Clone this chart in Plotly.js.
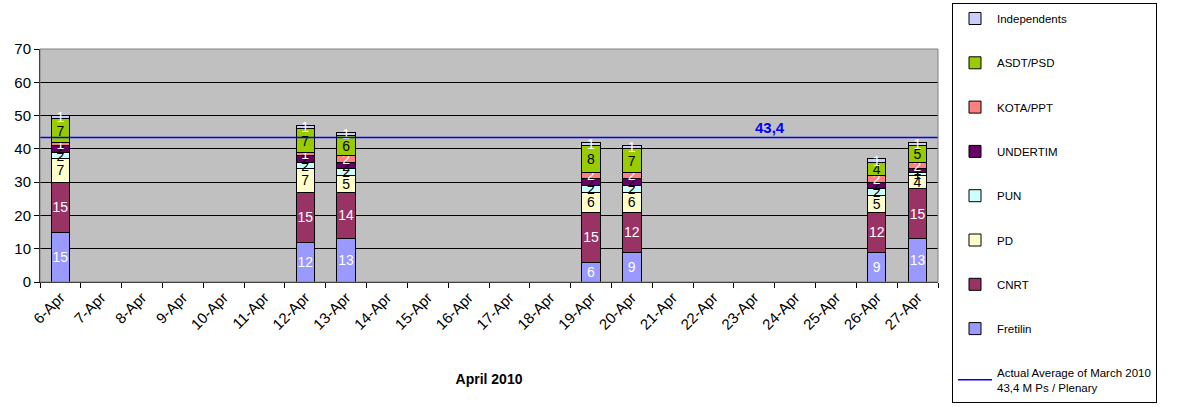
<!DOCTYPE html>
<html>
<head>
<meta charset="utf-8">
<script src="https://cdn.plot.ly/plotly-3.0.1.min.js"></script>
<style>html,body{margin:0;padding:0;background:#fff;}#chart{width:1184px;height:407px;}</style>
</head>
<body>
<div id="chart"></div>
<script>
const categories = ["6-Apr","7-Apr","8-Apr","9-Apr","10-Apr","11-Apr","12-Apr","13-Apr","14-Apr","15-Apr","16-Apr","17-Apr","18-Apr","19-Apr","20-Apr","21-Apr","22-Apr","23-Apr","24-Apr","25-Apr","26-Apr","27-Apr"];
const N = null;
const fretilin     = [15,N,N,N,N,N,12,13,N,N,N,N,N,6,9,N,N,N,N,N,9,13];
const cnrt         = [15,N,N,N,N,N,15,14,N,N,N,N,N,15,12,N,N,N,N,N,12,15];
const pd           = [7,N,N,N,N,N,7,5,N,N,N,N,N,6,6,N,N,N,N,N,5,4];
const pun          = [2,N,N,N,N,N,2,2,N,N,N,N,N,2,2,N,N,N,N,N,2,1];
const undertim     = [2,N,N,N,N,N,2,2,N,N,N,N,N,2,2,N,N,N,N,N,2,1];
const kota         = [1,N,N,N,N,N,1,2,N,N,N,N,N,2,2,N,N,N,N,N,2,2];
const asdt         = [7,N,N,N,N,N,7,6,N,N,N,N,N,8,7,N,N,N,N,N,4,5];
const independents = [1,N,N,N,N,N,1,1,N,N,N,N,N,1,1,N,N,N,N,N,1,1];
const marchAverage = 43.4;
const averageLabel = "43,4";
const averageName = "Actual Average of March 2010<br>43,4 M Ps / Plenary";

const FONT = "Liberation Sans, Arial, sans-serif";
const series = [
  {name:"Fretilin", y:fretilin, color:"#9999FF", text:"#FFFFFF", rank:8},
  {name:"CNRT", y:cnrt, color:"#993366", text:"#FFFFFF", rank:7},
  {name:"PD", y:pd, color:"#FFFFCC", text:"#000000", rank:6},
  {name:"PUN", y:pun, color:"#CCFFFF", text:"#000000", rank:5},
  {name:"UNDERTIM", y:undertim, color:"#660066", text:"#000000", rank:4},
  {name:"KOTA/PPT", y:kota, color:"#FF8080", text:"#FFFFFF", rank:3},
  {name:"ASDT/PSD", y:asdt, color:"#99CC00", text:"#000000", rank:2},
  {name:"Independents", y:independents, color:"#CCCCFF", text:"#FFFFFF", rank:1}
];

const traces = series.map(s => ({
  type:"bar", name:s.name, x:categories, y:s.y,
  width:0.45,
  marker:{color:s.color, line:{color:"#000000", width:1}},
  text:s.y.map(v => v===null ? "" : String(v)),
  textposition:"inside", insidetextanchor:"middle", textangle:0,
  textfont:{family:FONT, size:14, color:s.text},
  legendgroup:s.name, legendrank:s.rank,
  hoverinfo:"name+y"
}));

traces.push({
  type:"scatter", mode:"lines", name:averageName,
  x:[0,1], y:[marchAverage, marchAverage], xaxis:"x2",
  line:{color:"#0000FF", width:1.5},
  legendgroup:"avg", legendrank:9, hoverinfo:"y"
});

const layout = {
  width:1184, height:407,
  margin:{l:40, r:246, t:49, b:125, autoexpand:false},
  paper_bgcolor:"#FFFFFF", plot_bgcolor:"#C0C0C0",
  barmode:"stack",
  font:{family:FONT, size:13, color:"#000000"},
  uniformtext:{mode:"show", minsize:13},
  showlegend:true,
  legend:{
    xref:"container", yref:"container",
    x:952/1184, xanchor:"left", y:1-3/407, yanchor:"top",
    bgcolor:"#FFFFFF", bordercolor:"#000000", borderwidth:1,
    font:{family:FONT, size:11.5, color:"#000000"},
    traceorder:"grouped", tracegroupgap:25.3, itemwidth:34,
    maxheight:404
  },
  xaxis:{
    type:"category", categoryarray:categories, categoryorder:"array",
    tickson:"boundaries", ticks:"outside", ticklen:5, tickcolor:"#000000",
    tickangle:-45, tickfont:{family:FONT, size:15},
    showline:true, linecolor:"#000000", linewidth:1, mirror:false,
    showgrid:false, zeroline:false, automargin:false,
    title:{text:"<b>April 2010</b>", font:{family:FONT, size:14}, standoff:42}
  },
  xaxis2:{overlaying:"x", range:[0,1], visible:false, fixedrange:true},
  yaxis:{
    range:[0,70], dtick:10, ticks:"outside", ticklen:5, tickcolor:"#000000",
    tickfont:{family:FONT, size:15}, automargin:false,
    showline:true, linecolor:"#000000", linewidth:1,
    showgrid:true, gridcolor:"#000000", gridwidth:1, zeroline:false
  },
  shapes:[{type:"rect", xref:"paper", yref:"paper", x0:0, x1:1, y0:0, y1:1,
    line:{color:"#808080", width:1}, fillcolor:"rgba(0,0,0,0)", layer:"above"}],
  annotations:[{
    xref:"x2", yref:"y", x:0.813, y:marchAverage, yanchor:"bottom",
    text:"<b>"+averageLabel+"</b>", showarrow:false,
    font:{family:FONT, size:15, color:"#0000FF"}
  }]
};

Plotly.newPlot("chart", traces, layout, {displayModeBar:false, staticPlot:true});
</script>
</body>
</html>
